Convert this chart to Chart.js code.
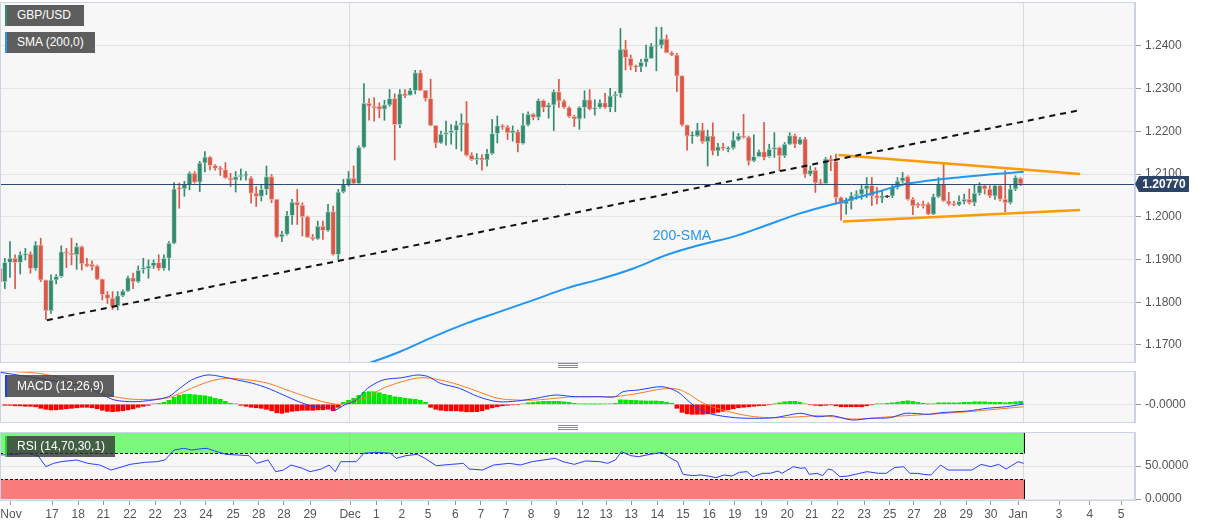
<!DOCTYPE html>
<html>
<head>
<meta charset="utf-8">
<title>GBP/USD</title>
<script src="https://cdn.jsdelivr.net/npm/chart.js@4.4.0/dist/chart.umd.min.js"></script>
<style>
    body { margin: 0; background: #fff; width: 1207px; height: 526px; overflow: hidden; position: relative;
           font-family: Arial, "Liberation Sans", sans-serif; }
    canvas { position: absolute; left: 0; }
    #main { top: 0; }
    #macd { top: 366px; }
    #rsi { top: 428px; }
    .tag { position: absolute; left: 5px; height: 21px; line-height: 21px; color: #fff; font-size: 12px;
           padding-left: 10px; box-sizing: border-box; border-left: 2px solid; z-index: 2; white-space: nowrap; }
    .grip { position: absolute; left: 558px; width: 20px; height: 5px; box-sizing: border-box; z-index: 2;
            border-top: 1px solid #8a8a8a; border-bottom: 1px solid #8a8a8a;
            background: linear-gradient(#8a8a8a, #8a8a8a) center / 100% 1px no-repeat; }
</style>
</head>
<body>
<canvas id="main" width="1207" height="365"></canvas>
<canvas id="macd" width="1207" height="60"></canvas>
<canvas id="rsi" width="1207" height="98"></canvas>

<div class="tag" style="top:5px;width:79px;background:#5e5e5e;border-left-color:#2f8c6f;">GBP/USD</div>
<div class="tag" style="top:32px;width:90px;background:#5e5e5e;border-left-color:#2196f3;">SMA (200,0)</div>
<div class="tag" style="top:375px;width:109px;height:22px;line-height:22px;background:rgba(70,70,70,0.86);border-left-color:#1d3bff;">MACD (12,26,9)</div>
<div class="tag" style="top:436px;width:110px;background:rgba(50,50,50,0.78);border-left-color:#2ad12a;">RSI (14,70,30,1)</div>
<div class="grip" style="top:363px;"></div>
<div class="grip" style="top:425px;"></div>

<script>
// --- Dados (velas de 4h, índice k = posição da vela) ---
const firstK = -1;

const candleOpen = [
    1.1879, 1.1848, 1.1893, 1.1903, 1.1893, 1.1911, 1.1913, 1.1879, 1.1934, 1.1852,
    1.1780, 1.1852, 1.1860, 1.1918, 1.1915, 1.1911, 1.1930, 1.1890, 1.1889, 1.1885,
    1.1854, 1.1818, 1.1809, 1.1792, 1.1815, 1.1826, 1.1857, 1.1848, 1.1877, 1.1879,
    1.1885, 1.1893, 1.1879, 1.1903, 1.1938, 1.2067, 1.2066, 1.2076, 1.2102, 1.2081,
    1.2126, 1.2140, 1.2120, 1.2114, 1.2110, 1.2091, 1.2086, 1.2094, 1.2097, 1.2091,
    1.2055, 1.2048, 1.2064, 1.2094, 1.2041, 1.1953, 1.1959, 1.2003, 1.2034, 1.2027,
    1.2000, 1.1952, 1.1948, 1.1978, 1.1968, 1.2012, 1.1912, 1.2058, 1.2076, 1.2090,
    1.2078, 1.2163, 1.2266, 1.2259, 1.2259, 1.2252, 1.2262, 1.2277, 1.2216, 1.2288,
    1.2285, 1.2296, 1.2337, 1.2296, 1.2277, 1.2214, 1.2173, 1.2193, 1.2197, 1.2202,
    1.2215, 1.2220, 1.2144, 1.2134, 1.2138, 1.2133, 1.2148, 1.2195, 1.2213, 1.2210,
    1.2197, 1.2199, 1.2172, 1.2215, 1.2240, 1.2233, 1.2272, 1.2256, 1.2262, 1.2293,
    1.2271, 1.2256, 1.2235, 1.2229, 1.2256, 1.2274, 1.2252, 1.2256, 1.2267, 1.2256,
    1.2283, 1.2289, 1.2392, 1.2371, 1.2353, 1.2351, 1.2362, 1.2371, 1.2400, 1.2402,
    1.2416, 1.2384, 1.2379, 1.2330, 1.2215, 1.2189, 1.2189, 1.2203, 1.2176, 1.2189,
    1.2154, 1.2164, 1.2158, 1.2161, 1.2180, 1.2189, 1.2186, 1.2131, 1.2141, 1.2152,
    1.2141, 1.2158, 1.2162, 1.2143, 1.2170, 1.2190, 1.2170, 1.2182, 1.2100, 1.2109,
    1.2080, 1.2078, 1.2135, 1.2130, 1.2045, 1.2030, 1.2037, 1.2049, 1.2053, 1.2065,
    1.2073, 1.2049, 1.2044, 1.2047, 1.2049, 1.2069, 1.2084, 1.2094, 1.2041, 1.2030,
    1.2030, 1.2030, 1.2006, 1.2047, 1.2076, 1.2037, 1.2031, 1.2028, 1.2036, 1.2041,
    1.2033, 1.2055, 1.2073, 1.2065, 1.2049, 1.2073, 1.2041, 1.2033, 1.2065, 1.2090
];
const candleHigh = [
    1.1883, 1.1903, 1.1942, 1.1911, 1.1918, 1.1926, 1.1918, 1.1942, 1.1950, 1.1852,
    1.1864, 1.1865, 1.1932, 1.1926, 1.1950, 1.1938, 1.1932, 1.1903, 1.1897, 1.1887,
    1.1854, 1.1825, 1.1825, 1.1825, 1.1829, 1.1861, 1.1868, 1.1885, 1.1903, 1.1899,
    1.1899, 1.1911, 1.1911, 1.1942, 1.2080, 1.2079, 1.2083, 1.2105, 1.2106, 1.2130,
    1.2153, 1.2141, 1.2122, 1.2118, 1.2127, 1.2102, 1.2106, 1.2112, 1.2106, 1.2094,
    1.2071, 1.2076, 1.2119, 1.2099, 1.2041, 1.1966, 1.2013, 1.2041, 1.2064, 1.2033,
    1.2002, 1.1959, 1.1990, 1.1990, 1.2029, 1.2025, 1.2064, 1.2088, 1.2106, 1.2119,
    1.2166, 1.2312, 1.2277, 1.2279, 1.2267, 1.2273, 1.2298, 1.2288, 1.2298, 1.2298,
    1.2301, 1.2343, 1.2343, 1.2296, 1.2322, 1.2214, 1.2201, 1.2224, 1.2216, 1.2224,
    1.2241, 1.2270, 1.2150, 1.2148, 1.2146, 1.2158, 1.2228, 1.2236, 1.2216, 1.2214,
    1.2213, 1.2203, 1.2242, 1.2246, 1.2242, 1.2276, 1.2274, 1.2266, 1.2297, 1.2322,
    1.2274, 1.2258, 1.2238, 1.2258, 1.2295, 1.2298, 1.2274, 1.2274, 1.2289, 1.2301,
    1.2293, 1.2441, 1.2413, 1.2379, 1.2355, 1.2369, 1.2402, 1.2406, 1.2444, 1.2444,
    1.2426, 1.2387, 1.2383, 1.2330, 1.2215, 1.2199, 1.2219, 1.2219, 1.2203, 1.2220,
    1.2172, 1.2172, 1.2164, 1.2199, 1.2195, 1.2240, 1.2189, 1.2192, 1.2156, 1.2221,
    1.2170, 1.2197, 1.2164, 1.2174, 1.2197, 1.2194, 1.2186, 1.2186, 1.2119, 1.2115,
    1.2088, 1.2139, 1.2143, 1.2147, 1.2047, 1.2044, 1.2057, 1.2061, 1.2076, 1.2092,
    1.2092, 1.2069, 1.2061, 1.2050, 1.2076, 1.2092, 1.2104, 1.2096, 1.2045, 1.2033,
    1.2037, 1.2033, 1.2053, 1.2092, 1.2123, 1.2057, 1.2037, 1.2049, 1.2053, 1.2065,
    1.2076, 1.2080, 1.2076, 1.2073, 1.2076, 1.2073, 1.2108, 1.2076, 1.2096, 1.2092
];
const candleLow = [
    1.1832, 1.1832, 1.1858, 1.1832, 1.1866, 1.1899, 1.1868, 1.1875, 1.1848, 1.1760,
    1.1774, 1.1843, 1.1858, 1.1881, 1.1887, 1.1877, 1.1875, 1.1883, 1.1875, 1.1853,
    1.1805, 1.1797, 1.1783, 1.1782, 1.1813, 1.1825, 1.1832, 1.1846, 1.1868, 1.1856,
    1.1879, 1.1875, 1.1875, 1.1875, 1.1937, 1.2020, 1.2048, 1.2063, 1.2079, 1.2059,
    1.2105, 1.2110, 1.2109, 1.2097, 1.2090, 1.2071, 1.2058, 1.2086, 1.2086, 1.2032,
    1.2024, 1.2037, 1.2052, 1.2033, 1.1951, 1.1942, 1.1957, 1.1982, 1.1982, 1.1955,
    1.1951, 1.1945, 1.1947, 1.1947, 1.1966, 1.1910, 1.1900, 1.2056, 1.2072, 1.2076,
    1.2076, 1.2162, 1.2226, 1.2224, 1.2232, 1.2226, 1.2259, 1.2133, 1.2209, 1.2279,
    1.2285, 1.2288, 1.2295, 1.2271, 1.2213, 1.2162, 1.2172, 1.2168, 1.2170, 1.2159,
    1.2154, 1.2142, 1.2132, 1.2123, 1.2109, 1.2119, 1.2146, 1.2173, 1.2205, 1.2181,
    1.2177, 1.2152, 1.2170, 1.2213, 1.2227, 1.2227, 1.2246, 1.2231, 1.2202, 1.2256,
    1.2254, 1.2233, 1.2211, 1.2205, 1.2231, 1.2250, 1.2238, 1.2254, 1.2254, 1.2246,
    1.2246, 1.2280, 1.2344, 1.2344, 1.2340, 1.2340, 1.2352, 1.2371, 1.2342, 1.2395,
    1.2384, 1.2377, 1.2293, 1.2213, 1.2156, 1.2172, 1.2188, 1.2172, 1.2119, 1.2145,
    1.2143, 1.2156, 1.2152, 1.2158, 1.2178, 1.2184, 1.2121, 1.2129, 1.2140, 1.2133,
    1.2139, 1.2139, 1.2108, 1.2139, 1.2169, 1.2162, 1.2169, 1.2092, 1.2096, 1.2057,
    1.2076, 1.2076, 1.2108, 1.2030, 1.1992, 1.2006, 1.2018, 1.2041, 1.2041, 1.2045,
    1.2026, 1.2030, 1.2033, 1.2045, 1.2045, 1.2065, 1.2080, 1.2039, 1.2005, 1.2022,
    1.2020, 1.2005, 1.2005, 1.2045, 1.2036, 1.2027, 1.2026, 1.2026, 1.2030, 1.2030,
    1.2026, 1.2051, 1.2053, 1.2045, 1.2041, 1.2037, 1.2012, 1.2030, 1.2061, 1.2073
];
const candleClose = [
    1.1848, 1.1893, 1.1903, 1.1893, 1.1911, 1.1913, 1.1879, 1.1934, 1.1852, 1.1780,
    1.1852, 1.1860, 1.1918, 1.1915, 1.1911, 1.1930, 1.1890, 1.1885, 1.1883, 1.1854,
    1.1818, 1.1809, 1.1790, 1.1815, 1.1826, 1.1857, 1.1848, 1.1875, 1.1881, 1.1885,
    1.1893, 1.1879, 1.1903, 1.1938, 1.2065, 1.2065, 1.2076, 1.2102, 1.2081, 1.2126,
    1.2140, 1.2120, 1.2114, 1.2110, 1.2091, 1.2086, 1.2094, 1.2097, 1.2098, 1.2055,
    1.2048, 1.2064, 1.2094, 1.2041, 1.1953, 1.1959, 1.2003, 1.2034, 1.2027, 1.2000,
    1.1952, 1.1948, 1.1978, 1.1968, 1.2012, 1.1912, 1.2058, 1.2076, 1.2090, 1.2078,
    1.2163, 1.2266, 1.2259, 1.2255, 1.2252, 1.2262, 1.2277, 1.2216, 1.2288, 1.2283,
    1.2296, 1.2337, 1.2296, 1.2277, 1.2214, 1.2173, 1.2193, 1.2197, 1.2202, 1.2215,
    1.2220, 1.2144, 1.2134, 1.2138, 1.2133, 1.2148, 1.2195, 1.2213, 1.2210, 1.2197,
    1.2202, 1.2172, 1.2215, 1.2240, 1.2233, 1.2272, 1.2256, 1.2262, 1.2293, 1.2271,
    1.2256, 1.2235, 1.2229, 1.2256, 1.2274, 1.2252, 1.2256, 1.2267, 1.2256, 1.2283,
    1.2287, 1.2392, 1.2373, 1.2353, 1.2351, 1.2362, 1.2371, 1.2400, 1.2402, 1.2416,
    1.2384, 1.2379, 1.2330, 1.2215, 1.2189, 1.2190, 1.2203, 1.2176, 1.2189, 1.2154,
    1.2164, 1.2160, 1.2161, 1.2180, 1.2189, 1.2186, 1.2131, 1.2141, 1.2152, 1.2139,
    1.2158, 1.2162, 1.2143, 1.2170, 1.2190, 1.2170, 1.2182, 1.2100, 1.2109, 1.2080,
    1.2078, 1.2135, 1.2130, 1.2045, 1.2030, 1.2037, 1.2049, 1.2053, 1.2065, 1.2073,
    1.2049, 1.2044, 1.2049, 1.2047, 1.2069, 1.2084, 1.2092, 1.2041, 1.2026, 1.2026,
    1.2026, 1.2006, 1.2047, 1.2076, 1.2037, 1.2030, 1.2028, 1.2036, 1.2041, 1.2033,
    1.2055, 1.2073, 1.2065, 1.2049, 1.2073, 1.2041, 1.2033, 1.2065, 1.2092, 1.2077
];

const smaX = [66, 71.6, 77, 83.5, 90.1, 96.5, 103, 109.6, 116, 122.5, 129.1, 135.5, 141.9, 148.2, 155, 163.4, 170, 176.1, 187.2, 196.9, 198.6];
const smaY = [1.1640, 1.1660, 1.1684, 1.1719, 1.1751, 1.1778, 1.1805, 1.1833, 1.1854, 1.1879, 1.1911, 1.1934, 1.1953, 1.1979, 1.2008, 1.2036, 1.2058, 1.2078, 1.2094, 1.2104, 1.2105];

// Linhas de tendência
const supportX = [8.2, 209.6];
const supportY = [1.1758, 1.2250];
const upperX = [162.5, 209.6];
const upperY = [1.2145, 1.2100];
const lowerX = [163.4, 209.6];
const lowerY = [1.1989, 1.2016];

const lastPrice = 1.2077;
const lastPriceLabel = '1.20770';
const smaLabel = { text: '200-SMA', x: 132, y: 1.1955 };

// MACD (12,26,9)
const macdX = [-0.9, 6.5, 14, 18.5, 21.4, 25.2, 28.9, 31.9, 34.1, 36.4, 39.4, 42.3, 45.3, 48.3, 51.3, 54.3, 57.3, 60.3, 63.2, 64.4,
               66.2, 68.5, 70.7, 73.7, 77.4, 80.4, 82.6, 84.9, 88.6, 92.3, 96.1, 99.8, 103.5, 107.3, 111, 116, 119, 120.5, 123.5, 128.1,
               131.1, 133.4, 135.6, 137.9, 142.4, 146.2, 150, 152.2, 155.2, 158.3, 161.3, 165.1, 168.8, 172.6, 175.6, 180.2, 182.4, 187.7, 191.5, 195.2, 198.6];
const macdY = [32, 26, 19.3, 11, 4.3, 2.6, 4.3, 7.6, 16, 24.3, 29.3, 27.6, 24.3, 21, 16, 9.3, 2.6, -2.4, -3.4, -5.7,
               -0.7, 4.3, 16, 24.3, 26.6, 29.3, 27.6, 21, 16, 7.6, 2.6, 3.3, 6, 9.3, 7.6, 7.6, 7.6, 12.6, 14.3, 17.6,
               12.6, 2.6, -5.7, -10, -13.4, -14, -13.4, -11.4, -9, -12.4, -11.4, -15.7, -14, -13.4, -9, -10, -8.4, -6.7, -4, -2.4, 0.3];
const signalX = [-0.9, 6.5, 14, 18.5, 21.4, 25.2, 28.9, 31.9, 34.9, 37.9, 40.9, 43.8, 47.6, 51.3, 55, 58.8, 62.5, 65.5, 67.7, 70.7,
                 73.7, 77.4, 81.1, 84.9, 88.6, 92.3, 96.1, 99.8, 103.5, 107.3, 111, 116, 119, 123.5, 128.1, 131.1, 133.4, 135.6, 137.9, 142.4,
                 146.2, 150, 155.2, 158.3, 161.3, 165.1, 168.8, 172.6, 175.6, 180.2, 187.7, 191.5, 195.2, 198.6];
const signalY = [33.3, 31, 22.6, 12.6, 7.6, 5, 5, 6.6, 12.6, 19.3, 24.3, 26, 24.3, 21, 14.3, 7.6, 2, 0, 2.6, 7.6,
                 16, 22.6, 26.6, 24.3, 19.3, 12.6, 6, 4.3, 4.3, 6, 7.6, 7.6, 7.6, 11, 15.3, 15.3, 10, 2.6, -2.4, -9,
                 -12.4, -13.4, -12.4, -11.4, -12.4, -14.7, -14, -12.4, -11.4, -10, -7.4, -5.7, -4, -2.4];
const histFirstK = 0;
const macdHist = [
    -1, -1, -1.5, -1.5, -2, -2, -2.5, -4, -5, -5.7,
    -5.5, -5, -4.5, -4, -3.5, -3, -3, -3.5, -4.5, -6,
    -7, -7.4, -7, -6.5, -5.5, -4.5, -3, -2, -1, 0.5,
    1, 2, 4, 7, 9, 10, 10, 9.5, 9, 8.5,
    7.5, 6, 5, 3, 1, 0.5, -1, -2, -3, -3.5,
    -4, -5, -6.5, -8.5, -9, -8, -7, -6.5, -6, -6,
    -6, -5.5, -5.5, -5, -6.5, -3, 2, 4, 6, 9,
    12, 12.6, 12.5, 11.5, 10, 9, 7.5, 7, 6, 5.5,
    5, 4, 2, -3, -5, -6, -6.5, -6.5, -6.5, -7,
    -7.5, -7.5, -7.4, -6.5, -5, -3.5, -2.5, -1.5, -1, -0.5,
    -0.5, 0.5, 1.5, 2, 2.5, 3, 3, 3, 3, 2.5,
    2, 1, 0.5, 0.3, 0.3, 0.3, 0.3, 0.5, 0.5, 1,
    4.5, 4.3, 4, 3.8, 3.5, 3.3, 3.3, 3.3, 3, 2,
    1, -4, -8, -9.5, -10, -10, -10, -9.5, -9, -8,
    -7, -5.5, -4.5, -3.5, -3, -2.5, -2, -1.5, -1.2, -0.5,
    0.3, 1.5, 2.5, 3, 3, 2, 0.5, -0.5, -1, -1.5,
    -1, -0.5, -1.5, -2.5, -2.5, -2.5, -2.5, -2.5, -1.5, -0.5,
    0.3, 0.5, 1, 1.5, 2, 3, 3.5, 3, 2, 1,
    0.3, 0.5, 1.5, 1.5, 1.5, 1.5, 1.5, 2, 2, 2.5,
    2.5, 2.5, 2, 2, 2, 1.5, 2, 2.5, 3
];

// RSI (14,70,30,1)
const rsiX = [-0.9, 2, 4.3, 6.5, 8, 9.5, 11, 14, 16.2, 18.5, 20.7, 23, 24.4, 27.4, 29.7, 31.2, 33, 34.9, 36.4, 37.9,
              39.4, 40.9, 43.1, 45.3, 47.6, 49.1, 51.3, 52.8, 54.3, 55.8, 58, 59.5, 61.7, 63.2, 64.4, 65.5, 68.5, 70, 72.2, 73.7,
              75.2, 76.3, 78.2, 80.4, 81.9, 84.1, 87.1, 89.4, 90.5, 93.1, 95.3, 98.3, 100.5, 102.8, 105, 107.3, 108.8, 111, 113.2,
              116, 117.5, 119, 120.2, 122, 123.5, 125.8, 128.1, 129.6, 131.1, 132.2, 134.1, 135.6, 137.1, 138.6, 140.2, 141.7, 143.2,
              144.7, 145.8, 147.7, 149.2, 150.7, 151.5, 153.7, 155.2, 156, 156.8, 158.3, 159.4, 160.5, 161.3, 162.8, 164.3, 165.8,
              168.1, 170.3, 171.8, 173.4, 175.2, 176.4, 177.9, 179, 180.5, 182.4, 183.9, 186.2, 188.5, 190.3, 192.2, 193.7, 195.2, 197.5, 198.6];
const rsiY = [66.7, 67.7, 69.2, 65.7, 49, 54, 56.6, 59.1, 54, 51.5, 43.9, 49, 52.5, 55.6, 56.6, 59.1, 74.2, 76.8, 74.2, 75.8,
              76.8, 72.7, 67.7, 66.7, 65.7, 54, 59.1, 41.4, 43.9, 51.5, 46.5, 41.4, 45.5, 51.5, 41.4, 56.6, 56.6, 69.2, 70.7, 70.2,
              69.2, 61.6, 65.7, 67.7, 61.6, 50.5, 52.5, 54, 45.5, 43.9, 51.5, 54, 51.5, 56.6, 59.1, 61.6, 56.6, 52.5, 57.6,
              56.6, 54, 59.1, 71.7, 65.7, 64.1, 67.7, 70.7, 62.6, 56.6, 37.4, 35.4, 36.4, 34.8, 32.3, 36.4, 34.8, 40.4,
              41.4, 33.8, 38.9, 38.9, 42.4, 38.9, 49, 46.5, 47.5, 37.4, 38.9, 35.4, 45.5, 43.9, 33.8, 34.8, 37.4,
              41.4, 38.9, 38.9, 47.5, 49, 38.9, 38.9, 37.4, 36.4, 51.5, 43.9, 43.9, 43.9, 52.5, 49, 52.5, 45.5, 56.6, 54];
const rsiUpper = 70;
const rsiLower = 30;
const rsiBandEnd = 198.6;

// Eixos
const priceTicks = [1.17, 1.18, 1.19, 1.20, 1.21, 1.22, 1.23, 1.24];
const macdTicks = [0];
const macdTickLabels = ['-0.0000'];
const rsiTicks = [0, 50];
const dateTickPos = [1.2, 9.2, 14.3, 19.2, 24.4, 29.3, 34.2, 39.2, 44.5, 49.5, 54.4, 59.5, 67.3, 72.4, 77.4, 82.5, 87.8, 92.8, 97.7, 102.6,
                     107.6, 112.7, 117.2, 122.1, 127.2, 132.2, 137.3, 142.3, 147.4, 152.5, 157.3, 162.4, 167.5, 172.5, 177.2, 182.3, 187.4, 192.2,
                     197.5, 205.5, 211.5, 217.6];
const dateTickLabels = ['Nov', '17', '18', '21', '22', '22', '23', '24', '25', '28', '28', '29', 'Dec', '1', '2', '5', '6', '7', '7', '8',
                        '9', '12', '13', '13', '14', '15', '16', '19', '19', '20', '21', '22', '23', '25', '27', '28', '29', '30',
                        'Jan', '3', '4', '5'];
const monthLines = [67.1, 198.5];

document.addEventListener('DOMContentLoaded', function() {

    const xMin = -0.94, xMax = 220.3;
    const GREEN = '#338a70', RED = '#d95848';
    const BORDER = '#cdd3e6';

    Chart.defaults.font.family = 'Arial, "Liberation Sans", sans-serif';
    Chart.defaults.font.size = 12;
    Chart.defaults.color = '#555';

    const pts = (xs, ys) => xs.map((x, i) => ({ x: x, y: ys[i] }));
    // largura fixa do eixo da direita e sem folga extra para os rótulos
    const fixWidth = (s) => { s.width = 72; s.paddingTop = 0; s.paddingBottom = 0; };

    // --- Plugin de decoração dos painéis ---
    const decoPlugin = {
        id: 'deco',
        beforeDraw(chart) {
            const a = chart.chartArea, ctx = chart.ctx;
            ctx.save();
            ctx.fillStyle = '#f7f7f7';
            ctx.fillRect(a.left, a.top, a.right - a.left, a.bottom - a.top);
            ctx.restore();
        },
        beforeDatasetsDraw(chart, args, opts) {
            const a = chart.chartArea, ctx = chart.ctx;
            const xs = chart.scales.x, ys = chart.scales.y;
            ctx.save();
            if (opts.bands) {
                const b = opts.bands;
                const x0 = a.left, x1 = Math.round(xs.getPixelForValue(b.endX)) + 0.5;
                const yTop = ys.getPixelForValue(100), yUp = Math.round(ys.getPixelForValue(b.upper)) + 0.5;
                const yLow = Math.round(ys.getPixelForValue(b.lower)) + 0.5, yBot = ys.getPixelForValue(0);
                ctx.fillStyle = '#7cf97c';
                ctx.fillRect(x0, yTop, x1 - x0, yUp - yTop);
                ctx.fillStyle = '#f97b7b';
                ctx.fillRect(x0, yLow, x1 - x0, yBot - yLow);
                ctx.strokeStyle = '#111';
                ctx.lineWidth = 1;
                ctx.setLineDash([3, 2]);
                [yUp, yLow].forEach(y => { ctx.beginPath(); ctx.moveTo(x0, y); ctx.lineTo(x1, y); ctx.stroke(); });
                ctx.setLineDash([]);
                ctx.beginPath();
                ctx.moveTo(x1, yTop); ctx.lineTo(x1, yUp);
                ctx.moveTo(x1, yLow); ctx.lineTo(x1, yBot);
                ctx.moveTo(x0 + 0.5, yTop); ctx.lineTo(x0 + 0.5, yUp);
                ctx.moveTo(x0 + 0.5, yLow); ctx.lineTo(x0 + 0.5, yBot);
                ctx.stroke();
            }
            ctx.strokeStyle = 'rgba(150,150,150,0.28)';
            ctx.lineWidth = 1;
            (opts.vlines || []).forEach(v => {
                const px = Math.round(xs.getPixelForValue(v)) + 0.5;
                ctx.beginPath(); ctx.moveTo(px, a.top); ctx.lineTo(px, a.bottom); ctx.stroke();
            });
            ctx.restore();
        },
        afterDatasetsDraw(chart, args, opts) {
            const a = chart.chartArea, ctx = chart.ctx;
            const xs = chart.scales.x, ys = chart.scales.y;
            ctx.save();
            if (opts.label) {
                ctx.fillStyle = '#2196f3';
                ctx.font = '14px Arial, "Liberation Sans", sans-serif';
                ctx.textAlign = 'center';
                ctx.textBaseline = 'middle';
                ctx.fillText(opts.label.text, xs.getPixelForValue(opts.label.x), ys.getPixelForValue(opts.label.y));
            }
            if (opts.price) {
                const py = Math.round(ys.getPixelForValue(opts.price.value)) + 0.5;
                ctx.strokeStyle = '#2b4a75';
                ctx.lineWidth = 1;
                ctx.beginPath(); ctx.moveTo(a.left, py); ctx.lineTo(a.right, py); ctx.stroke();
            }
            ctx.restore();
        },
        afterDraw(chart, args, opts) {
            const a = chart.chartArea, ctx = chart.ctx, ys = chart.scales.y;
            ctx.save();
            ctx.strokeStyle = BORDER;
            ctx.lineWidth = 1;
            ctx.strokeRect(a.left + 0.5, a.top + 0.5, a.right - a.left - 1, a.bottom - a.top);
            if (opts.price) {
                const py = Math.round(ys.getPixelForValue(opts.price.value));
                ctx.fillStyle = '#2b4468';
                ctx.beginPath();
                ctx.moveTo(a.right, py);
                ctx.lineTo(a.right + 4, py - 8);
                ctx.lineTo(a.right + 54, py - 8);
                ctx.lineTo(a.right + 54, py + 8);
                ctx.lineTo(a.right + 4, py + 8);
                ctx.closePath();
                ctx.fill();
                ctx.fillStyle = '#fff';
                ctx.font = 'bold 12px Arial, "Liberation Sans", sans-serif';
                ctx.textAlign = 'center';
                ctx.textBaseline = 'middle';
                ctx.fillText(opts.price.text, a.right + 29, py + 1);
            }
            ctx.restore();
        }
    };

    // --- Velas ---
    const candleColor = candleOpen.map((o, i) => candleClose[i] > o ? GREEN : (candleClose[i] < o ? RED : '#333'));
    const candleEdge = candleOpen.map((o, i) => candleClose[i] > o ? '#a9d4c6' : (candleClose[i] < o ? '#f2b3a9' : '#333'));
    const wickData = candleOpen.map((o, i) => ({ x: firstK + i, y: [candleLow[i], candleHigh[i]] }));
    const bodyData = candleOpen.map((o, i) => ({ x: firstK + i, y: [o, candleClose[i]] }));

    const yGrid = { color: '#e4e4e4', tickColor: '#9a9a9a', tickLength: 6 };

    const mainCanvas = document.getElementById('main');
    if (mainCanvas) {
        new Chart(mainCanvas, {
            type: 'bar',
            data: {
                datasets: [
                    { type: 'line', data: pts(supportX, supportY), borderColor: '#111', borderWidth: 2, borderDash: [6, 5], pointRadius: 0, order: 0 },
                    { type: 'line', data: pts(upperX, upperY), borderColor: '#ff9a00', borderWidth: 2.5, pointRadius: 0, order: 0 },
                    { type: 'line', data: pts(lowerX, lowerY), borderColor: '#ff9a00', borderWidth: 2.5, pointRadius: 0, order: 0 },
                    { type: 'line', data: pts(smaX, smaY), borderColor: '#2196f3', borderWidth: 2, pointRadius: 0, tension: 0.4, order: 0 },
                    { data: wickData, backgroundColor: candleColor, barThickness: 1, grouped: false, order: 3 },
                    { data: bodyData, backgroundColor: candleColor, borderColor: candleEdge, borderWidth: 0.8,
                      borderSkipped: false, barThickness: 4.6, minBarLength: 1, grouped: false, order: 2 }
                ]
            },
            options: {
                responsive: false,
                animation: false,
                layout: { autoPadding: false, padding: { top: 2, bottom: 3, left: 0, right: 0 } },
                plugins: {
                    legend: { display: false },
                    tooltip: { enabled: false },
                    deco: { vlines: monthLines, price: { value: lastPrice, text: lastPriceLabel }, label: smaLabel }
                },
                scales: {
                    x: { type: 'linear', min: xMin, max: xMax, offset: false, display: false },
                    y: {
                        position: 'right', min: 1.166, max: 1.2503,
                        afterBuildTicks: (s) => { s.ticks = priceTicks.map(v => ({ value: v })); },
                        afterFit: fixWidth,
                        ticks: { callback: (v) => Number(v).toFixed(4), padding: 4 },
                        grid: yGrid,
                        border: { color: BORDER }
                    }
                }
            },
            plugins: [decoPlugin]
        });
    }

    // --- MACD ---
    const histData = macdHist.map((v, i) => ({ x: histFirstK + i, y: v }));
    const histColor = macdHist.map(v => v >= 0 ? '#00e800' : '#ff0000');

    const macdCanvas = document.getElementById('macd');
    if (macdCanvas) {
        new Chart(macdCanvas, {
            type: 'bar',
            data: {
                datasets: [
                    { type: 'line', data: pts(macdX, macdY), borderColor: '#1f3fff', borderWidth: 1, pointRadius: 0, tension: 0.3, order: 0 },
                    { type: 'line', data: pts(signalX, signalY), borderColor: '#ff7b22', borderWidth: 1, pointRadius: 0, tension: 0.3, order: 0 },
                    { data: histData, backgroundColor: histColor, barThickness: 4, order: 1 }
                ]
            },
            options: {
                responsive: false,
                animation: false,
                layout: { autoPadding: false, padding: { top: 5, bottom: 4, left: 0, right: 0 } },
                plugins: { legend: { display: false }, tooltip: { enabled: false }, deco: { vlines: monthLines } },
                scales: {
                    x: { type: 'linear', min: xMin, max: xMax, offset: false, display: false },
                    y: {
                        position: 'right', min: -17.7, max: 33.3,
                        afterBuildTicks: (s) => { s.ticks = macdTicks.map(v => ({ value: v })); },
                        afterFit: fixWidth,
                        ticks: { callback: (v, i) => macdTickLabels[i], padding: 4 },
                        grid: yGrid,
                        border: { color: BORDER }
                    }
                }
            },
            plugins: [decoPlugin]
        });
    }

    // --- RSI ---
    const rsiCanvas = document.getElementById('rsi');
    if (rsiCanvas) {
        new Chart(rsiCanvas, {
            type: 'line',
            data: {
                datasets: [
                    { data: pts(rsiX, rsiY), borderColor: '#2c40ff', borderWidth: 1, pointRadius: 0, tension: 0 }
                ]
            },
            options: {
                responsive: false,
                animation: false,
                layout: { autoPadding: false, padding: { top: 4, bottom: 0, left: 0, right: 0 } },
                plugins: {
                    legend: { display: false },
                    tooltip: { enabled: false },
                    deco: { vlines: monthLines, bands: { upper: rsiUpper, lower: rsiLower, endX: rsiBandEnd } }
                },
                scales: {
                    x: {
                        type: 'linear', min: xMin, max: xMax, offset: false,
                        afterBuildTicks: (s) => { s.ticks = dateTickPos.map(v => ({ value: v })); },
                        afterFit: (s) => { s.height = 26; s.paddingLeft = 0; s.paddingRight = 0; },
                        ticks: { callback: (v, i) => dateTickLabels[i], autoSkip: false, maxRotation: 0, minRotation: 0, padding: 2 },
                        grid: { drawOnChartArea: false, color: 'transparent', tickColor: '#9a9a9a', tickLength: 5 },
                        border: { color: BORDER }
                    },
                    y: {
                        position: 'right', min: -1.5, max: 101.5,
                        afterBuildTicks: (s) => { s.ticks = rsiTicks.map(v => ({ value: v })); },
                        afterFit: fixWidth,
                        ticks: { callback: (v) => Number(v).toFixed(4), padding: 4 },
                        grid: yGrid,
                        border: { color: BORDER }
                    }
                }
            },
            plugins: [decoPlugin]
        });
    } else {
        console.error("Erro: canvas 'rsi' não encontrado.");
    }

});
</script>
</body>
</html>
